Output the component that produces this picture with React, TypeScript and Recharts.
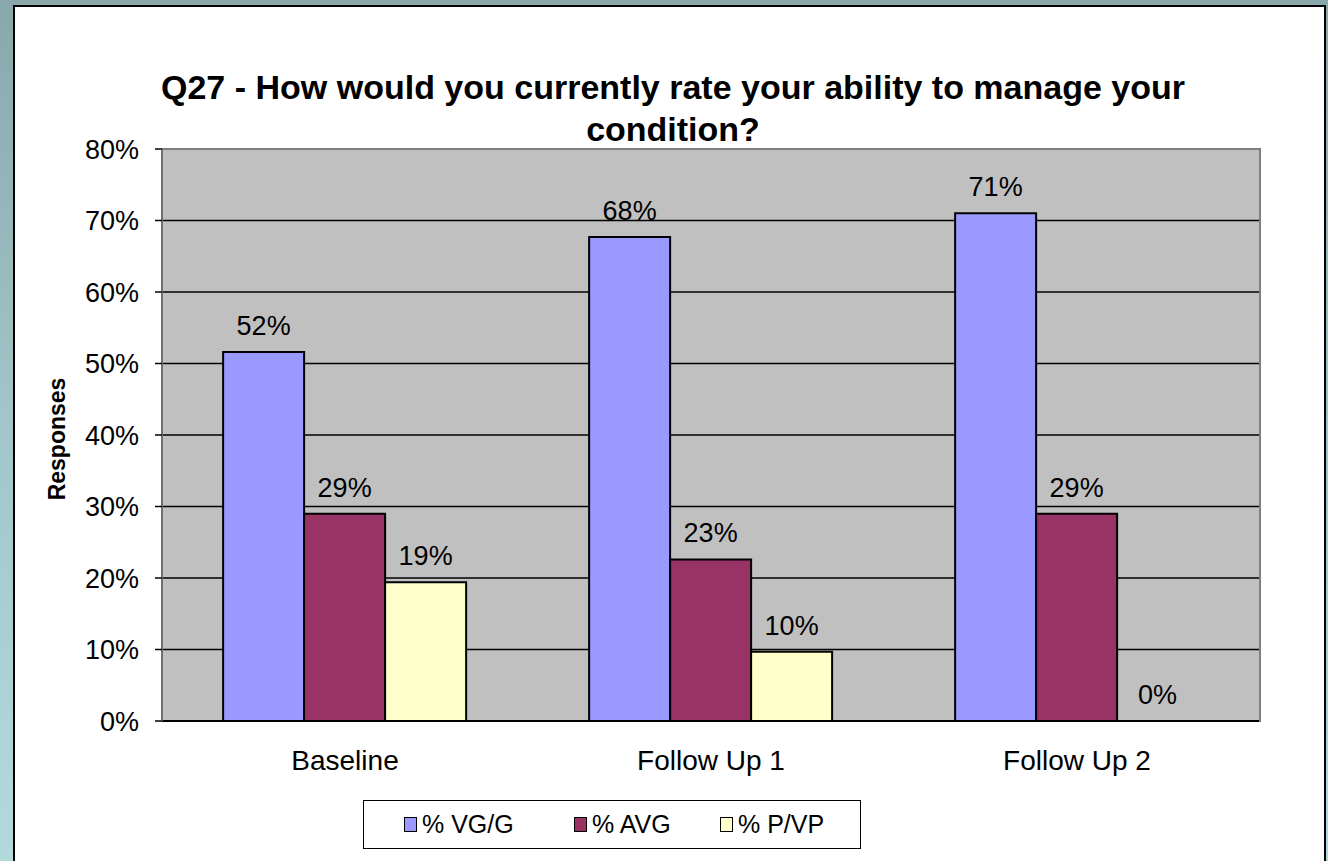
import { BarChart, Bar, XAxis, YAxis, CartesianGrid, LabelList } from 'recharts';

const categories = ['Baseline', 'Follow Up 1', 'Follow Up 2'];
const vgG = [51.6, 67.7, 71.0];
const avg = [29.0, 22.6, 29.0];
const pVp = [19.4, 9.7, 0];
const seriesNames = ['% VG/G', '% AVG', '% P/VP'];
const seriesColors = ['#9999FF', '#993366', '#FFFFCC'];
const yTicks = [0, 10, 20, 30, 40, 50, 60, 70, 80];
const edgeTicks = [0, 1, 2, 3];

const FONT = '"Liberation Sans", Arial, sans-serif';

const data = categories.map((name, i) => ({
  name,
  [seriesNames[0]]: vgG[i],
  [seriesNames[1]]: avg[i],
  [seriesNames[2]]: pVp[i],
}));

const pct = (v: unknown) => `${Math.round(Number(v))}%`;

export default function App() {
  return (
    <div
      style={{
        position: 'fixed',
        left: 0,
        top: 0,
        width: 1328,
        height: 861,
        overflow: 'hidden',
        background: 'linear-gradient(180deg, #88a8ac 0%, #a2c6c9 50%, #b2dadc 100%)',
        fontFamily: FONT,
      }}
    >
      <div
        style={{
          position: 'absolute',
          left: 13,
          top: 5,
          width: 1309,
          height: 880,
          background: '#fff',
          border: '2px solid #000',
        }}
      />
      <div
        style={{
          position: 'absolute',
          left: 0,
          top: 66,
          width: 1346,
          textAlign: 'center',
          fontSize: 34,
          fontWeight: 'bold',
          lineHeight: '42px',
          color: '#000',
          whiteSpace: 'nowrap',
        }}
      >
        Q27 - How would you currently rate your ability to manage your
        <br />
        condition?
      </div>
      <div
        style={{
          position: 'absolute',
          left: 57 - 100,
          top: 439 - 12,
          width: 200,
          height: 24,
          lineHeight: '24px',
          textAlign: 'center',
          fontSize: 23,
          fontWeight: 'bold',
          transform: 'rotate(-90deg)',
        }}
      >
        Responses
      </div>
      <div style={{ position: 'absolute', left: 0, top: 0 }}>
        <BarChart
          width={1328}
          height={861}
          data={data}
          margin={{ top: 149, right: 68, bottom: 100, left: 82 }}
          barCategoryGap="16.7%"
          barGap={0}
        >
          <CartesianGrid vertical={false} stroke="#000" strokeWidth={1.5} fill="#C0C0C0" fillOpacity={1} />
          <XAxis
            xAxisId="edge"
            type="number"
            domain={[0, 3]}
            ticks={edgeTicks}
            tick={false}
            axisLine={false}
            tickLine={{ stroke: '#000', strokeWidth: 1.5 }}
            tickSize={8}
            height={0}
          />
          <XAxis
            dataKey="name"
            axisLine={{ stroke: '#000', strokeWidth: 2 }}
            tickLine={false}
            tickSize={0}
            tickMargin={29}
            height={40}
            tick={{ fill: '#000', fontSize: 28, fontFamily: FONT }}
            interval={0}
          />
          <YAxis
            domain={[0, 80]}
            ticks={yTicks}
            tickFormatter={(v: number) => `${v}%`}
            width={80}
            axisLine={{ stroke: '#707070', strokeWidth: 2 }}
            tickLine={{ stroke: '#000', strokeWidth: 1.5 }}
            tickSize={7}
            tickMargin={16}
            tick={{ fill: '#000', fontSize: 27, fontFamily: FONT }}
            interval={0}
          />
          {seriesNames.map((s, i) => (
            <Bar
              key={s}
              dataKey={s}
              fill={seriesColors[i]}
              stroke="#000"
              strokeWidth={2}
              minPointSize={0.05}
              isAnimationActive={false}
            >
              <LabelList
                dataKey={s}
                position="top"
                offset={17}
                formatter={pct}
                style={{ fill: '#000', fontSize: 27, fontFamily: FONT }}
              />
            </Bar>
          ))}
        </BarChart>
      </div>
      <div
        style={{
          position: 'absolute',
          left: 162,
          top: 148,
          width: 1097,
          height: 572,
          borderTop: '2px solid #808080',
          borderRight: '2px solid #808080',
          pointerEvents: 'none',
        }}
      />
      <div
        style={{
          position: 'absolute',
          left: 363,
          top: 800,
          width: 496,
          height: 47,
          border: '1px solid #000',
          background: '#fff',
        }}
      >
        {seriesNames.map((s, i) => (
          <div
            key={s}
            style={{
              position: 'absolute',
              left: [40, 210, 356][i],
              top: 0,
              height: 47,
              display: 'flex',
              alignItems: 'center',
              fontSize: 25,
              color: '#000',
            }}
          >
            <span
              style={{
                display: 'inline-block',
                width: 11,
                height: 13,
                background: seriesColors[i],
                border: '1px solid #000',
                marginRight: 5,
              }}
            />
            {s}
          </div>
        ))}
      </div>
    </div>
  );
}
